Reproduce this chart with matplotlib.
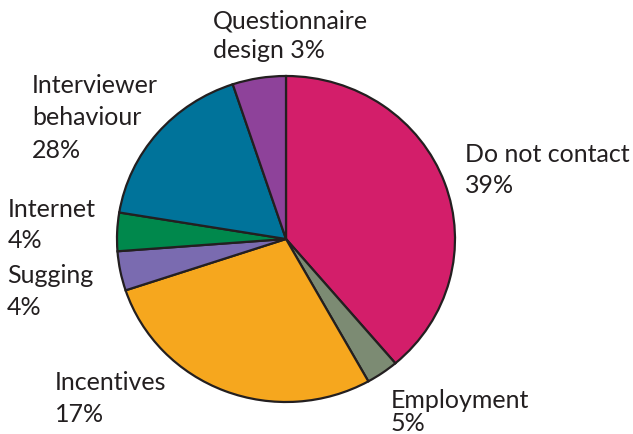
import matplotlib
matplotlib.use("Agg")
import matplotlib.pyplot as plt

# slice sizes as drawn (clockwise from 12 o'clock)
shares = [38.8, 3.1, 28.0, 3.9, 3.8, 17.3, 5.1]
colors = ["#D31E6A", "#7C8B73", "#F6A71E", "#7A6BB0", "#00884C", "#00739A", "#8E429A"]

# label texts as printed on the chart
names = ["Do not contact", "Employment", "Incentives", "Sugging", "Internet",
         "Interviewer\nbehaviour", "Questionnaire\ndesign"]
pct_text = ["39%", "5%", "17%", "4%", "4%", "28%", "3%"]

W, H = 633, 434
fig = plt.figure(figsize=(W / 100, H / 100), dpi=100)
ax = fig.add_axes([0, 0, 1, 1])
ax.pie(shares, colors=colors, startangle=90, counterclock=False,
       wedgeprops=dict(edgecolor="#231F20", linewidth=1.6))
ax.set_aspect("auto")
# pie centre at (286, 239) px, radius 169 px wide, 163 px tall
cx, cy, rx, ry = 286, 239, 169, 163
ax.set_xlim(-cx / rx, (W - cx) / rx)
ax.set_ylim(-(H - cy) / ry, cy / ry)

# text line baselines in pixels: (left x, [baselines]) per label
spots = [
    (465, [162, 193]),
    (391, [408, 431]),
    (55, [390, 422]),
    (7, [283, 315]),
    (8, [217, 248]),
    (32, [93, 125, 158]),
    (213, [28, 58]),
]

for name, pct, (x, bases) in zip(names, pct_text, spots):
    lines = name.split("\n")
    if len(lines) + 1 == len(bases):
        lines = lines + [pct]
    else:
        lines[-1] = lines[-1] + " " + pct
    for line, y in zip(lines, bases):
        fig.text(x / W, 1 - y / H, line, fontsize=18, family="Lato",
                 color="#231F20", ha="left", va="baseline")

fig.savefig("out.png", dpi=100)
